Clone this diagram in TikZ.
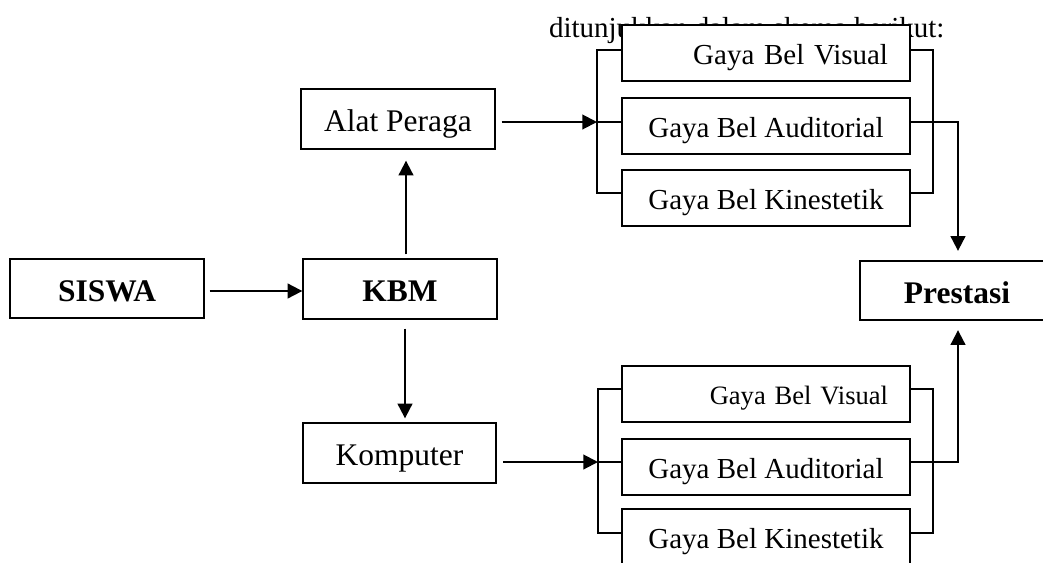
\documentclass[tikz,border=0pt]{standalone}
\usepackage{fontspec}
\setmainfont{Liberation Serif}
\usetikzlibrary{arrows.meta}

\begin{document}
\begin{tikzpicture}[x=0.75pt,y=0.75pt,yscale=-1.0,xscale=1.0,line width=1.5pt,
  box/.style={draw,fill=white,minimum width=145pt,minimum height=44.5pt,inner sep=0pt,text height=19pt,text depth=0pt,font=\fontsize{23.6}{28}\selectfont},
  gbox/.style={draw,fill=white,minimum width=216pt,minimum height=42pt,inner sep=0pt,text height=17.4pt,text depth=0pt,font=\fontsize{21.75}{26}\selectfont},
  rbox/.style={gbox,text width=183pt,inner xsep=16.5pt,align=right},
  arr/.style={-{Triangle[length=11pt,width=11pt]}}]
\useasboundingbox (0,0) rectangle (1043,562);
% text behind the top boxes
\node (intro) [anchor=base west,inner sep=0pt,font=\fontsize{21.75}{26}\selectfont] at (548,37) {ditunjukkan dalam skema berikut:};
% main boxes
\node (siswa) [box] at (107,288.5) {\textbf{SISWA}};
\node (kbm) [box] at (400,289) {\textbf{KBM}};
\node (alat) [box] at (398,119) {Alat Peraga};
\node (komp) [box] at (399.5,453) {Komputer};
\node (prestasi) [box] at (957,290.5) {\textbf{Prestasi}};
% gaya belajar, top
\node (ga1) [rbox] at (766,53) {Gaya Bel Visual};
\node (ga2) [gbox] at (766,125.5) {Gaya Bel Auditorial};
\node (ga3) [gbox] at (766,197.5) {Gaya Bel Kinestetik};
% gaya belajar, bottom
\node (gb1) [rbox,font=\fontsize{19.9}{24}\selectfont,text height=16pt] at (766,394) {Gaya Bel Visual};
\node (gb2) [gbox] at (766,467) {Gaya Bel Auditorial};
\node (gb3) [gbox] at (766,537) {Gaya Bel Kinestetik};
% bracket points
\coordinate (la1) at (597,50);
\coordinate (la2) at (597,122);
\coordinate (la3) at (597,193);
\coordinate (ra1) at (933,50);
\coordinate (ra3) at (933,193);
\coordinate (lb1) at (598,389);
\coordinate (lb2) at (598,462);
\coordinate (lb3) at (598,533);
\coordinate (rb1) at (933,389);
\coordinate (rb3) at (933,533);
% arrows
\draw[arr,shorten <=3.75pt] (siswa.east |- 0,291) -- (kbm.west |- 0,291);
\draw[arr,shorten <=3pt,shorten >=8.25pt] ([xshift=4.5pt]kbm.north) -- ([xshift=6pt]alat.south);
\draw[arr,shorten <=6.75pt,shorten >=3pt] ([xshift=3.75pt]kbm.south) -- ([xshift=4.125pt]komp.north);
\draw[arr,shorten <=4.5pt] (alat.east |- la2) -- (la2);
\draw[arr,shorten <=4.5pt] (komp.east |- lb2) -- (lb2);
% brackets
\draw (la1 -| ga1.west) -- (la1) -- (la3) -- (la3 -| ga3.west);
\draw (la2) -- (la2 -| ga2.west);
\draw (ra1 -| ga1.east) -- (ra1) -- (ra3) -- (ra3 -| ga3.east);
\draw (lb1 -| gb1.west) -- (lb1) -- (lb3) -- (lb3 -| gb3.west);
\draw (lb2) -- (lb2 -| gb2.west);
\draw (rb1 -| gb1.east) -- (rb1) -- (rb3) -- (rb3 -| gb3.east);
\draw[arr,shorten >=6.75pt] (ga2.east |- la2) -| ([xshift=0.75pt]prestasi.north);
\draw[arr,shorten >=6.75pt] (gb2.east |- lb2) -| ([xshift=0.75pt]prestasi.south);
\end{tikzpicture}
\end{document}
